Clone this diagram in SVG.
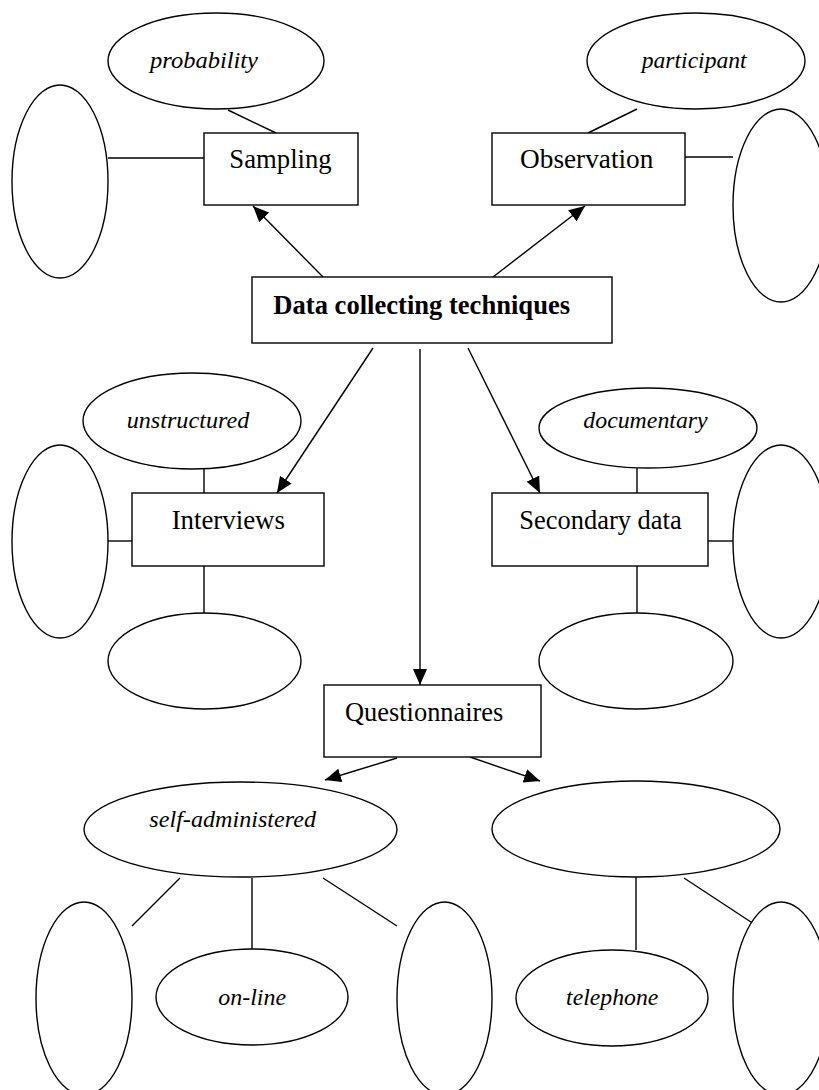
<svg xmlns="http://www.w3.org/2000/svg" width="819" height="1090" viewBox="0 0 819 1090">
<defs>
<marker id="ah" viewBox="0 0 16 14" refX="16" refY="7" markerWidth="16" markerHeight="14" markerUnits="userSpaceOnUse" orient="auto">
<path d="M0,0 L16,7 L0,14 Z" fill="#000"/>
</marker>
<style>
.s{fill:#fff;stroke:#000;stroke-width:1.4}
.c line{stroke:#000;stroke-width:1.4;fill:none}
.c .a{marker-end:url(#ah)}
text{font-family:'Liberation Serif','Times New Roman',serif;fill:#000;text-anchor:middle}
.t{font-size:26.6px}
.i{font-size:24px;font-style:italic}
.b{font-weight:bold}
</style>
</defs>
<rect width="819" height="1090" fill="#fff"/>
<g id="connectors" class="c">
<line class="a" x1="323" y1="277" x2="253" y2="206"/>
<line class="a" x1="493" y1="277" x2="585" y2="206"/>
<line class="a" x1="373" y1="348" x2="277" y2="493"/>
<line class="a" x1="420" y1="349" x2="420" y2="685"/>
<line class="a" x1="468" y1="348" x2="540" y2="493"/>
<line class="a" x1="397" y1="758" x2="325" y2="780"/>
<line class="a" x1="470" y1="757" x2="540" y2="781"/>
<line x1="228" y1="110" x2="276" y2="133"/>
<line x1="108" y1="158" x2="204" y2="158"/>
<line x1="637" y1="109" x2="588" y2="133"/>
<line x1="685" y1="157" x2="733" y2="157"/>
<line x1="204" y1="469" x2="204" y2="493"/>
<line x1="108" y1="541" x2="132" y2="541"/>
<line x1="204" y1="566" x2="204" y2="613"/>
<line x1="637" y1="468" x2="637" y2="493"/>
<line x1="708" y1="541" x2="733" y2="541"/>
<line x1="637" y1="566" x2="637" y2="613"/>
<line x1="180" y1="878" x2="132" y2="926"/>
<line x1="252" y1="878" x2="252" y2="949"/>
<line x1="323" y1="878" x2="397" y2="926"/>
<line x1="636" y1="877" x2="636" y2="950"/>
<line x1="684" y1="878" x2="757" y2="926"/>
</g>
<g id="data-collecting-techniques"><rect class="s" x="252" y="277" width="360" height="66"/><text class="t b" x="421.7" y="314" textLength="296.7" lengthAdjust="spacingAndGlyphs">Data collecting techniques</text></g>
<g id="sampling"><rect class="s" x="204" y="133" width="154" height="72"/><text class="t" x="280.5" y="168" textLength="102.3" lengthAdjust="spacingAndGlyphs">Sampling</text></g>
<g id="probability"><ellipse class="s" cx="216" cy="61" rx="108" ry="48"/><text class="i" x="204" y="68" textLength="108" lengthAdjust="spacingAndGlyphs">probability</text></g>
<g id="sampling-blank"><ellipse class="s" cx="60" cy="181.5" rx="48" ry="96.5"/></g>
<g id="observation"><rect class="s" x="492" y="133" width="193" height="72"/><text class="t" x="586.7" y="168" textLength="133.3" lengthAdjust="spacingAndGlyphs">Observation</text></g>
<g id="participant"><ellipse class="s" cx="696" cy="61" rx="109" ry="48"/><text class="i" x="694.2" y="68" textLength="105" lengthAdjust="spacingAndGlyphs">participant</text></g>
<g id="observation-blank"><ellipse class="s" cx="781" cy="205.5" rx="48" ry="96.5"/></g>
<g id="interviews"><rect class="s" x="132" y="493" width="192" height="73"/><text class="t" x="228.3" y="529" textLength="113.3" lengthAdjust="spacingAndGlyphs">Interviews</text></g>
<g id="unstructured"><ellipse class="s" cx="192" cy="421" rx="109" ry="48"/><text class="i" x="188" y="428" textLength="122.6" lengthAdjust="spacingAndGlyphs">unstructured</text></g>
<g id="interviews-blank-left"><ellipse class="s" cx="60" cy="541.5" rx="48" ry="96.5"/></g>
<g id="interviews-blank-bottom"><ellipse class="s" cx="204.5" cy="661" rx="96.5" ry="48"/></g>
<g id="secondary-data"><rect class="s" x="492" y="493" width="216" height="73"/><text class="t" x="600.5" y="529" textLength="162.3" lengthAdjust="spacingAndGlyphs">Secondary data</text></g>
<g id="documentary"><ellipse class="s" cx="648" cy="428" rx="109" ry="40"/><text class="i" x="645.5" y="428" textLength="124.3" lengthAdjust="spacingAndGlyphs">documentary</text></g>
<g id="secondary-blank-right"><ellipse class="s" cx="781" cy="541.5" rx="48" ry="96.5"/></g>
<g id="secondary-blank-bottom"><ellipse class="s" cx="636" cy="661" rx="97" ry="48"/></g>
<g id="questionnaires"><rect class="s" x="324" y="685" width="217" height="72"/><text class="t" x="424.2" y="721" textLength="158.3" lengthAdjust="spacingAndGlyphs">Questionnaires</text></g>
<g id="self-administered"><ellipse class="s" cx="240.5" cy="829.5" rx="156.5" ry="47.5"/><text class="i" x="232.7" y="827" textLength="166.7" lengthAdjust="spacingAndGlyphs">self-administered</text></g>
<g id="questionnaire-blank"><ellipse class="s" cx="636" cy="829" rx="144" ry="48"/></g>
<g id="self-blank-left"><ellipse class="s" cx="84" cy="998.5" rx="48" ry="96.5"/></g>
<g id="on-line"><ellipse class="s" cx="252" cy="997" rx="96" ry="48"/><text class="i" x="252.2" y="1005" textLength="67.7" lengthAdjust="spacingAndGlyphs">on-line</text></g>
<g id="self-blank-right"><ellipse class="s" cx="444.5" cy="998.5" rx="47.5" ry="96.5"/></g>
<g id="telephone"><ellipse class="s" cx="612" cy="998" rx="96" ry="48"/><text class="i" x="612.2" y="1005" textLength="92.3" lengthAdjust="spacingAndGlyphs">telephone</text></g>
<g id="phone-blank-right"><ellipse class="s" cx="781" cy="998.5" rx="48" ry="96.5"/></g>
</svg>
